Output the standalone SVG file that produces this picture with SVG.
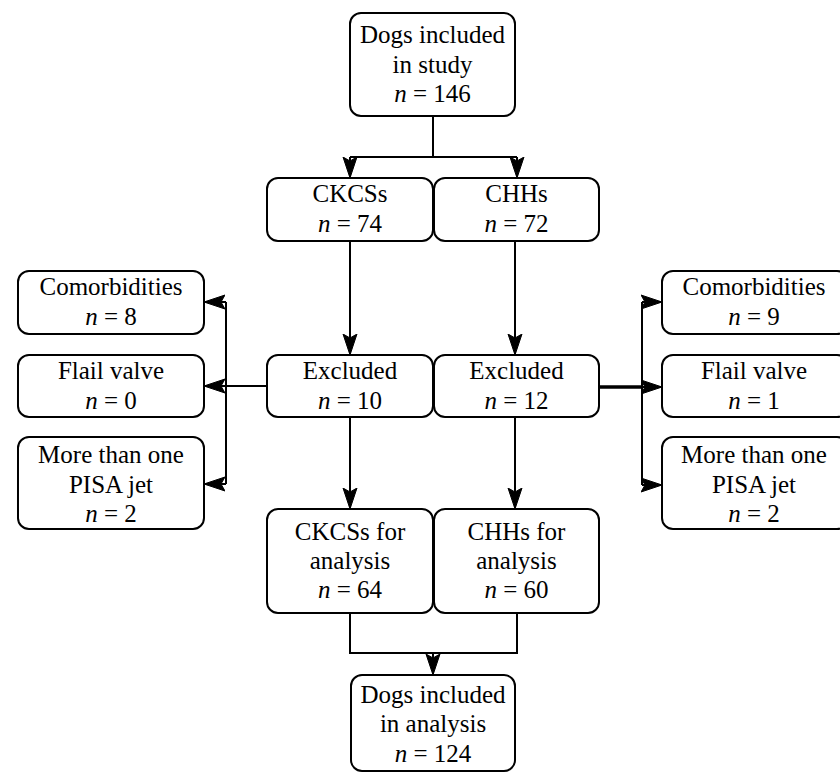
<svg xmlns="http://www.w3.org/2000/svg" width="840" height="773" viewBox="0 0 840 773">
<style>
.box{fill:#fff;stroke:#000;stroke-width:2}
.t{font-family:"Liberation Serif","Times New Roman",serif;font-size:25px;text-anchor:middle;fill:#000}
.i{font-style:italic}
.c{fill:none;stroke:#000;stroke-width:2}
</style>
<defs>
<marker id="ah" markerUnits="userSpaceOnUse" viewBox="0 0 22 16" markerWidth="22" markerHeight="16" refX="21" refY="8" orient="auto">
<path d="M0,1 L21,8 L0,15 L4,8 z" fill="#000" stroke="#000" stroke-width="1" stroke-linejoin="miter"/>
</marker>
</defs>
<rect width="840" height="773" fill="#fff"/>
<g id="connectors">
<path class="c" d="M433,116 V157 M350,157 H517"/>
<path class="c" d="M350,157 V178" marker-end="url(#ah)"/>
<path class="c" d="M517,157 V178" marker-end="url(#ah)"/>
<path class="c" d="M350,241 V355" marker-end="url(#ah)"/>
<path class="c" d="M515,241 V355" marker-end="url(#ah)"/>
<path class="c" d="M267,386 H204" marker-end="url(#ah)"/>
<path class="c" d="M226,302 V484"/>
<path class="c" d="M226,302 H204" marker-end="url(#ah)"/>
<path class="c" d="M226,484 H204" marker-end="url(#ah)"/>
<path class="c" style="stroke-width:3.5" d="M599,387 H642"/>
<path class="c" d="M642,387 H662" marker-end="url(#ah)"/>
<path class="c" d="M642,302 V485"/>
<path class="c" d="M642,302 H662" marker-end="url(#ah)"/>
<path class="c" d="M642,485 H662" marker-end="url(#ah)"/>
<path class="c" d="M350,417 V509" marker-end="url(#ah)"/>
<path class="c" d="M515,417 V509" marker-end="url(#ah)"/>
<path class="c" d="M350,613 V653 H517 V613"/>
<path class="c" d="M433,653 V675" marker-end="url(#ah)"/>
</g>
<g id="n-study">
<rect class="box" x="350" y="13" width="165" height="103" rx="11"/>
<text class="t" x="432.5" y="43">Dogs included</text>
<text class="t" x="432.5" y="72.5">in study</text>
<text class="t" x="432.5" y="102"><tspan class="i">n</tspan> = 146</text>
</g>
<g id="n-ckcs">
<rect class="box" x="267" y="178" width="166" height="63" rx="11"/>
<text class="t" x="350" y="202">CKCSs</text>
<text class="t" x="350" y="232"><tspan class="i">n</tspan> = 74</text>
</g>
<g id="n-chh">
<rect class="box" x="434" y="178" width="165" height="63" rx="11"/>
<text class="t" x="516.5" y="202">CHHs</text>
<text class="t" x="516.5" y="232"><tspan class="i">n</tspan> = 72</text>
</g>
<g id="n-excl-l">
<rect class="box" x="267" y="355" width="166" height="62" rx="11"/>
<text class="t" x="350" y="379">Excluded</text>
<text class="t" x="350" y="409"><tspan class="i">n</tspan> = 10</text>
</g>
<g id="n-excl-r">
<rect class="box" x="434" y="355" width="165" height="62" rx="11"/>
<text class="t" x="516.5" y="379">Excluded</text>
<text class="t" x="516.5" y="409"><tspan class="i">n</tspan> = 12</text>
</g>
<g id="n-comorb-l">
<rect class="box" x="18" y="271" width="186" height="63" rx="11"/>
<text class="t" x="111" y="295">Comorbidities</text>
<text class="t" x="111" y="325"><tspan class="i">n</tspan> = 8</text>
</g>
<g id="n-flail-l">
<rect class="box" x="18" y="355" width="186" height="62" rx="11"/>
<text class="t" x="111" y="379">Flail valve</text>
<text class="t" x="111" y="409"><tspan class="i">n</tspan> = 0</text>
</g>
<g id="n-pisa-l">
<rect class="box" x="18" y="437" width="186" height="92" rx="11"/>
<text class="t" x="111" y="463">More than one</text>
<text class="t" x="111" y="492.5">PISA jet</text>
<text class="t" x="111" y="522"><tspan class="i">n</tspan> = 2</text>
</g>
<g id="n-comorb-r">
<rect class="box" x="662" y="271" width="186" height="63" rx="11"/>
<text class="t" x="754" y="295">Comorbidities</text>
<text class="t" x="754" y="325"><tspan class="i">n</tspan> = 9</text>
</g>
<g id="n-flail-r">
<rect class="box" x="662" y="355" width="186" height="62" rx="11"/>
<text class="t" x="754" y="379">Flail valve</text>
<text class="t" x="754" y="409"><tspan class="i">n</tspan> = 1</text>
</g>
<g id="n-pisa-r">
<rect class="box" x="662" y="437" width="186" height="92" rx="11"/>
<text class="t" x="754" y="463">More than one</text>
<text class="t" x="754" y="492.5">PISA jet</text>
<text class="t" x="754" y="522"><tspan class="i">n</tspan> = 2</text>
</g>
<g id="n-ckcs-an">
<rect class="box" x="267" y="509" width="166" height="104" rx="11"/>
<text class="t" x="350" y="540">CKCSs for</text>
<text class="t" x="350" y="569">analysis</text>
<text class="t" x="350" y="598"><tspan class="i">n</tspan> = 64</text>
</g>
<g id="n-chh-an">
<rect class="box" x="434" y="509" width="165" height="104" rx="11"/>
<text class="t" x="516.5" y="540">CHHs for</text>
<text class="t" x="516.5" y="569">analysis</text>
<text class="t" x="516.5" y="598"><tspan class="i">n</tspan> = 60</text>
</g>
<g id="n-final">
<rect class="box" x="351" y="675" width="164" height="96" rx="11"/>
<text class="t" x="433" y="703">Dogs included</text>
<text class="t" x="433" y="732">in analysis</text>
<text class="t" x="433" y="762"><tspan class="i">n</tspan> = 124</text>
</g>
</svg>
